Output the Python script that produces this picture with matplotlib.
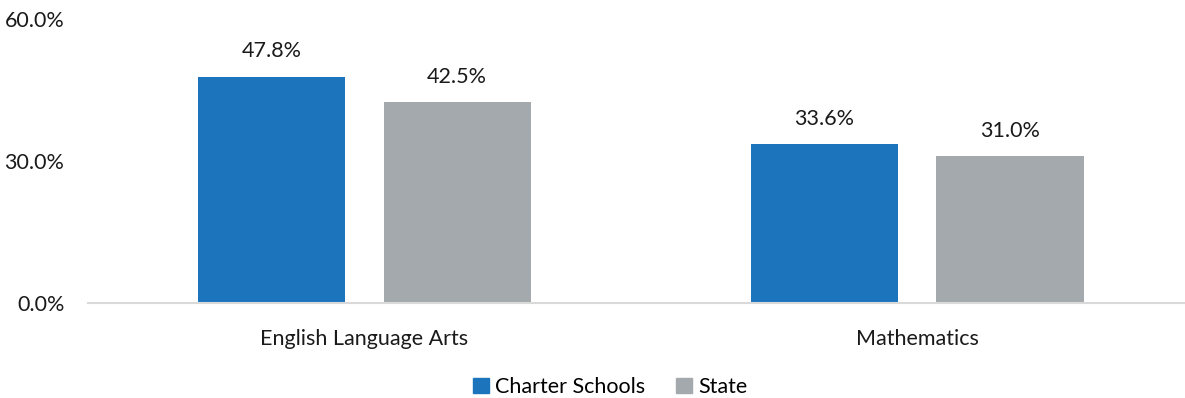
import matplotlib
matplotlib.use("Agg")
import matplotlib.pyplot as plt
from matplotlib.patches import Patch

categories = ["English Language Arts", "Mathematics"]
charter = [47.8, 33.6]
state = [42.5, 31.0]
series_names = ["Charter Schools", "State"]
yticks = [0.0, 30.0, 60.0]

blue = "#1c75bc"
grey = "#a3a9ac"

plt.rcParams["font.family"] = ["Lato", "DejaVu Sans"]
fs = 15.5

fig = plt.figure(figsize=(11.85, 3.98), dpi=100)
W, H = 1185, 398
ax = fig.add_axes([88 / W, 1 - 303 / H, (1193.5 - 88) / W, (303 - 19) / H])

x = list(range(len(categories)))
bw = 0.266
off = 0.168
b1 = ax.bar([i - off for i in x], charter, bw, color=blue, label=series_names[0])
b2 = ax.bar([i + off for i in x], state, bw, color=grey, label=series_names[1])

for bars, vals in ((b1, charter), (b2, state)):
    for rect, v in zip(bars, vals):
        ax.annotate(f"{v:.1f}%", (rect.get_x() + rect.get_width() / 2, v),
                    xytext=(0, 11), textcoords="offset points",
                    ha="center", va="bottom", fontsize=fs, color="#1a1a1a")

ax.set_xlim(-0.5, 1.5)
ax.set_ylim(0, 60)
ax.set_yticks(yticks)
ax.set_yticklabels([f"{t:.1f}%" for t in yticks], fontsize=fs, color="#1a1a1a")
ax.set_xticks(x)
ax.set_xticklabels(categories, fontsize=fs, color="#1a1a1a")
ax.tick_params(axis="both", length=0)
ax.tick_params(axis="x", pad=19)
ax.tick_params(axis="y", pad=17)
for s in ("top", "right", "left"):
    ax.spines[s].set_visible(False)
ax.spines["bottom"].set_color("#d9d9d9")
ax.spines["bottom"].set_linewidth(1.5)

handles = [Patch(color=blue), Patch(color=grey)]
fig.legend(handles, series_names, loc="center", bbox_to_anchor=(610 / W, 1 - 387 / H),
           ncol=2, frameon=False, fontsize=fs, handlelength=0.75, handleheight=0.75,
           handletextpad=0.3, columnspacing=1.4)

fig.savefig("out.png", dpi=100)
